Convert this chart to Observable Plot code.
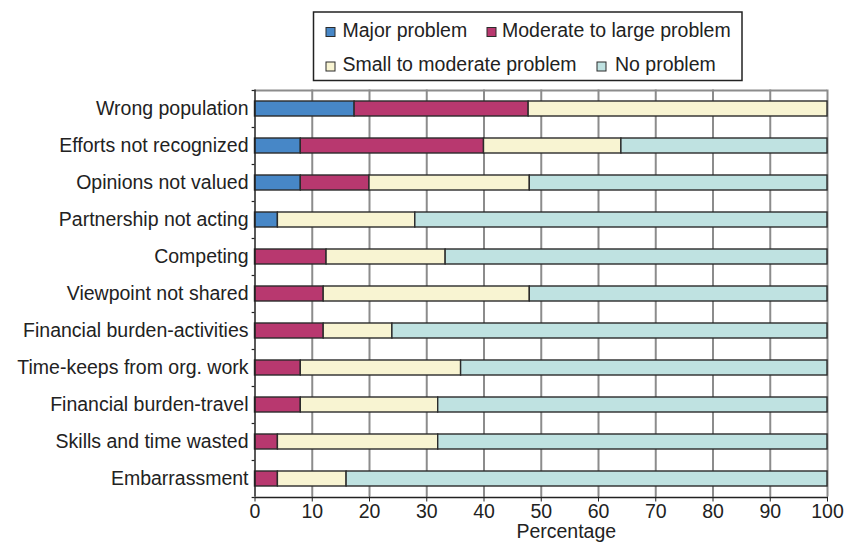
<!DOCTYPE html>
<html><head><meta charset="utf-8">
<script src="https://cdn.jsdelivr.net/npm/d3@7"></script>
<script src="https://cdn.jsdelivr.net/npm/@observablehq/plot@0.6"></script>
<style>
body{margin:0;background:#fff;}
#wrap{position:relative;width:856px;height:544px;font-family:"Liberation Sans",Arial,sans-serif;}
#wrap svg.legend{position:absolute;left:0;top:0;}
</style></head><body><div id="wrap"></div>
<script>
const categories = [
  "Wrong population",
  "Efforts not recognized",
  "Opinions not valued",
  "Partnership not acting",
  "Competing",
  "Viewpoint not shared",
  "Financial burden-activities",
  "Time-keeps from org. work",
  "Financial burden-travel",
  "Skills and time wasted",
  "Embarrassment"
];
const series = ["Major problem", "Moderate to large problem", "Small to moderate problem", "No problem"];
const major    = [17.4, 8, 8, 4, 0, 0, 0, 0, 0, 0, 0];
const moderate = [30.4, 32, 12, 0, 12.5, 12, 12, 8, 8, 4, 4];
const small    = [52.2, 24, 28, 24, 20.8, 36, 12, 28, 24, 28, 12];
const none     = [0, 36, 52, 72, 66.7, 52, 76, 64, 68, 68, 84];
const xTicks = [0, 10, 20, 30, 40, 50, 60, 70, 80, 90, 100];
const colors = ["#4787c7", "#b8386f", "#f8f4d2", "#bfe2e1"];

const values = [major, moderate, small, none];
const data = [];
categories.forEach((c, i) => series.forEach((s, j) => {
  if (values[j][i] > 0) data.push({category: c, series: s, value: values[j][i]});
}));

const W = 856, H = 544, mL = 254.5, mR = 29, mT = 89.5, mB = 47.5;
const step = (H - mT - mB) / categories.length;
const font = "'Liberation Sans', Arial, sans-serif";
const fs = "19.5px";

const chart = Plot.plot({
  width: W, height: H,
  marginLeft: mL, marginRight: mR, marginTop: mT, marginBottom: mB,
  style: {fontFamily: font, fontSize: fs, color: "#222", background: "#fff", overflow: "visible"},
  x: {domain: [0, 100], label: null},
  y: {domain: categories, paddingInner: 0.6, paddingOuter: 0.3, label: null},
  color: {domain: series, range: colors},
  marks: [
    Plot.ruleX(xTicks.slice(1), {stroke: "#8c8c8c", strokeWidth: 2}),
    Plot.ruleY([categories[0]], {dy: -step / 2, stroke: "#8c8c8c", strokeWidth: 2}),
    Plot.barX(data, Plot.stackX({y: "category", x: "value", fill: "series", order: series, stroke: "#2b2b2b", strokeWidth: 1.4})),
    Plot.ruleX([0], {stroke: "#222", strokeWidth: 1.5}),
    Plot.ruleY([categories[categories.length - 1]], {dy: step / 2, stroke: "#222", strokeWidth: 1.5}),
    Plot.ruleY(categories, {y: d => d, x1: -0.5, x2: 0, dy: -step / 2, stroke: "#222", strokeWidth: 1.2}),
    Plot.ruleY([categories[categories.length - 1]], {x1: -0.5, x2: 0, dy: step / 2, stroke: "#222", strokeWidth: 1.2}),
    Plot.axisX({ticks: xTicks, tickSize: 5, tickPadding: 2.5, stroke: "#222", fill: "#222", fontSize: fs, label: null}),
    Plot.axisY({tickSize: 0, tickPadding: 6.5, fill: "#222", fontSize: fs, label: null}),
    Plot.text(["Percentage"], {text: d => d, frameAnchor: "bottom", lineAnchor: "middle", dx: 25, dy: 35, fill: "#222", fontSize: fs})
  ]
});

const wrap = document.getElementById("wrap");
wrap.appendChild(chart);

// legend
const leg = d3.select(wrap).append("svg").attr("class", "legend")
  .attr("width", W).attr("height", 90)
  .style("font-family", font).style("font-size", fs);
leg.append("rect").attr("x", 313.5).attr("y", 12).attr("width", 428.5).attr("height", 68.5)
  .attr("fill", "#fff").attr("stroke", "#222").attr("stroke-width", 1.5);
const items = [
  {i: 0, sx: 326, tx: 342.5, by: 36.5},
  {i: 1, sx: 487, tx: 502, by: 36.5},
  {i: 2, sx: 326, tx: 342.5, by: 71},
  {i: 3, sx: 597, tx: 615, by: 71}
];
items.forEach(d => {
  leg.append("rect").attr("x", d.sx).attr("y", d.by - 9).attr("width", 9).attr("height", 9)
    .attr("fill", colors[d.i]).attr("stroke", "#2b2b2b").attr("stroke-width", 1);
  leg.append("text").attr("x", d.tx).attr("y", d.by).attr("fill", "#222").text(series[d.i]);
});
</script></body></html>
